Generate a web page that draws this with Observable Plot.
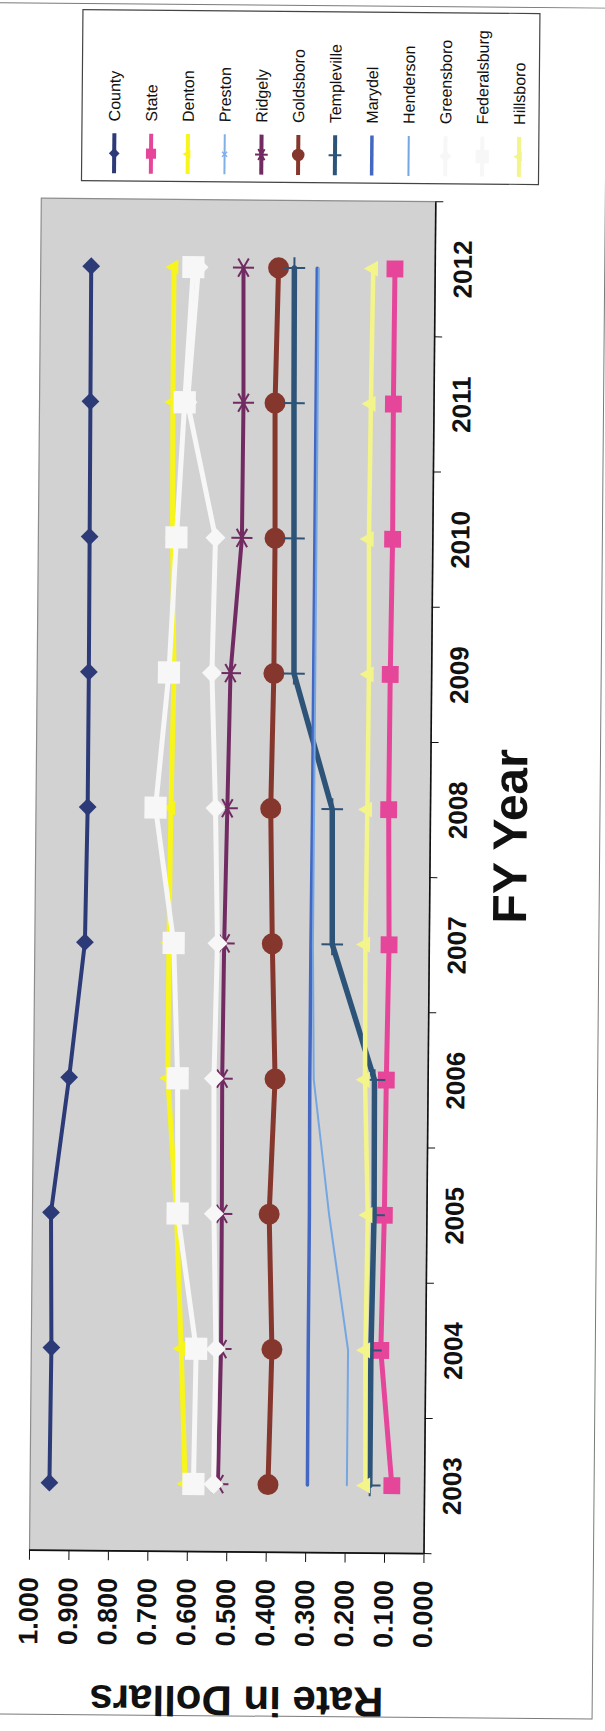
<!DOCTYPE html>
<html><head><meta charset="utf-8">
<script src="https://cdn.jsdelivr.net/npm/d3@7"></script>
<script src="https://cdn.jsdelivr.net/npm/@observablehq/plot@0.6"></script>
<style>
html,body{margin:0;padding:0;background:#fff;overflow:hidden;width:605px;height:1731px;}
#stage{position:absolute;left:-563px;top:563px;width:1731px;height:605px;transform-origin:865.5px 302.5px;transform:rotate(-89.5deg);font-family:"Liberation Sans",Arial,sans-serif;}
#border{position:absolute;left:14px;top:-10px;width:1712px;height:610px;border:1.5px solid #7a7a7a;box-sizing:border-box;}
#chart{position:absolute;left:0;top:0;}
#legend{position:absolute;left:1548px;top:75px;}
</style></head>
<body><div id="stage"><div id="border"></div><div id="chart"></div><div id="legend"></div></div>
<script>
// ---- data ----
const years = [2003, 2004, 2005, 2006, 2007, 2008, 2009, 2010, 2011, 2012];
const seriesNames = ["County","State","Denton","Preston","Ridgely","Goldsboro","Templeville","Marydel","Henderson","Greensboro","Federalsburg","Hillsboro"];
const county      = [0.951, 0.949, 0.953, 0.910, 0.873, 0.869, 0.869, 0.870, 0.871, 0.872];
const state       = [0.083, 0.114, 0.108, 0.106, 0.102, 0.106, 0.105, 0.102, 0.103, 0.102];
const denton      = [0.607, 0.620, 0.635, 0.660, 0.660, 0.658, 0.653, 0.660, 0.662, 0.662];
const preston     = [0.298, 0.298, 0.298, 0.300, 0.300, 0.299, 0.299, 0.299, 0.299, 0.299];
const ridgely     = [0.524, 0.519, 0.520, 0.522, 0.520, 0.515, 0.510, 0.484, 0.483, 0.486];
const goldsboro   = [0.397, 0.390, 0.400, 0.388, 0.398, 0.405, 0.400, 0.400, 0.403, 0.397];
const templeville = [0.139, 0.139, 0.134, 0.136, 0.246, 0.249, 0.349, 0.352, 0.355, 0.357];
const marydel     = [0.297, 0.298, 0.298, 0.300, 0.300, 0.299, 0.299, 0.299, 0.299, 0.299];
const henderson   = [0.197, 0.197, 0.248, 0.290, 0.295, 0.295, 0.295, 0.295, 0.295, 0.295];
const greensboro  = [0.535, 0.532, 0.540, 0.543, 0.537, 0.545, 0.557, 0.551, 0.625, 0.600];
const federalsburg= [0.586, 0.582, 0.632, 0.635, 0.648, 0.697, 0.666, 0.650, 0.632, 0.613];
const hillsboro   = [0.150, 0.153, 0.150, 0.160, 0.162, 0.160, 0.159, 0.162, 0.160, 0.157];
const seriesValues = [county, state, denton, preston, ridgely, goldsboro, templeville, marydel, henderson, greensboro, federalsburg, hillsboro];
const valueTicks = [0, 0.1, 0.2, 0.3, 0.4, 0.5, 0.6, 0.7, 0.8, 0.9, 1.0];
const xTitle = "FY Year";
const yTitle = "Rate in Dollars";

// ---- styles ----
const styles = {
  County:      {color:"#2c3a78", w:4,   symbol:"diamond2", r:8,   fill:"#2c3a78"},
  State:       {color:"#e6469a", w:5,   symbol:"square",   r:9.5, fill:"#e6469a"},
  Denton:      {color:"#f7f51c", w:5,   symbol:"triangle", r:5.5, fill:"#f7f51c"},
  Preston:     {color:"#7fb0e6", w:2,   symbol:"times",    r:4,   fill:"none", ms:"#7fb0e6", msw:1.5, hideMarks:true},
  Ridgely:     {color:"#722b62", w:4,   symbol:"asterisk", r:10,  fill:"none", ms:"#722b62", msw:2},
  Goldsboro:   {color:"#86372d", w:5,   symbol:"circle",   r:10.5,fill:"#86372d"},
  Templeville: {color:"#2d5478", w:5.5, symbol:"plus",     r:7,   fill:"none", ms:"#2d5478", msw:2},
  Marydel:     {color:"#4468c2", w:3.5, symbol:null},
  Henderson:   {color:"#74a6e2", w:2,   symbol:null},
  Greensboro:  {color:"#f7f7f7", w:5,   symbol:"diamond2", r:9,   fill:"#f7f7f7"},
  Federalsburg:{color:"#f7f7f7", w:5,   symbol:"square",   r:12.5,fill:"#f7f7f7"},
  Hillsboro:   {color:"#f3f48a", w:4.5, symbol:"triangle", r:6,   fill:"#f3f48a"}
};

const rows = seriesNames.flatMap((name, i) => years.map((year, j) => ({series: name, year, value: seriesValues[i][j]})));
const xMin = years[0] - 0.5, xMax = years[years.length - 1] + 0.5;
const boundaries = [...years.map(y => y - 0.5), xMax];

const marks = [Plot.frame({fill:"#d2d2d2", stroke:"#8c8c8c", strokeWidth:1.2})];
for (const name of seriesNames) {
  const s = styles[name];
  const d = rows.filter(r => r.series === name);
  marks.push(Plot.line(d, {x:"year", y:"value", stroke:s.color, strokeWidth:s.w, strokeLinejoin:"round"}));
  if (s.symbol && !s.hideMarks) marks.push(Plot.dot(d, {x:"year", y:"value", symbol:s.symbol, r:s.r, fill:s.fill, stroke:s.ms || "none", strokeWidth:s.msw || 0}));
}
marks.push(
  Plot.ruleY([0], {stroke:"#111", strokeWidth:1.6}),
  Plot.ruleX([xMin], {stroke:"#111", strokeWidth:1.6}),
  Plot.axisY(valueTicks, {tickFormat: d => d.toFixed(3), tickSize:9, tickPadding:18, fontSize:27, fontWeight:"bold", label:null}),
  Plot.axisX(years, {tickFormat: d => String(d), tickSize:0, tickPadding:18, fontSize:26, fontWeight:"bold", label:null}),
  Plot.axisX(boundaries, {tickFormat: () => "", tickSize:8, label:null}),
  Plot.text([xTitle], {text: d => d, frameAnchor:"bottom", textAnchor:"middle", lineAnchor:"middle", dx:42, dy:81, fontSize:48, fontWeight:"bold", fill:"#111"}),
  Plot.text([yTitle], {text: d => d, frameAnchor:"left", textAnchor:"middle", lineAnchor:"middle", rotate:-90, dx:-148, dy:11, fontSize:42, fontWeight:"bold", fill:"#111"})
);

const chart = Plot.plot({
  width:1731, height:605,
  marginLeft:178, marginRight:201, marginTop:35, marginBottom:175.5,
  x:{domain:[xMin, xMax]},
  y:{domain:[0, 1]},
  style:{fontFamily:"Liberation Sans, Arial, sans-serif", background:"transparent", color:"#111", overflow:"visible"},
  marks
});
document.getElementById("chart").appendChild(chart);

// ---- legend ----
const LW = 172, LH = 458;
const leg = d3.select("#legend").append("svg").attr("width", LW).attr("height", LH).style("overflow","visible");
leg.append("rect").attr("x",0.5).attr("y",0.5).attr("width",LW-1).attr("height",LH-1).attr("fill","#fff").attr("stroke","#444").attr("stroke-width",1.2);
const symMap = {diamond2:d3.symbolDiamond2, square:d3.symbolSquare, triangle:d3.symbolTriangle, times:d3.symbolTimes, asterisk:d3.symbolAsterisk, circle:d3.symbolCircle, plus:d3.symbolPlus};
seriesNames.forEach((name, i) => {
  const s = styles[name];
  const cy = 33 + 36.8 * i;
  const g = leg.append("g").attr("transform", `translate(0,${cy})`);
  g.append("line").attr("x1",8).attr("x2",48).attr("y1",0).attr("y2",0).attr("stroke",s.color).attr("stroke-width",Math.min(s.w,4));
  if (s.symbol) {
    const size = Math.PI * (s.r * 0.6) ** 2;
    g.append("path").attr("transform","translate(28,0)").attr("d", d3.symbol(symMap[s.symbol], size)())
      .attr("fill", s.fill).attr("stroke", s.ms || "none").attr("stroke-width", s.msw || 0);
  }
  g.append("text").attr("x",60).attr("y",0).attr("dy","0.35em").attr("font-size",16)
    .attr("font-family","Liberation Sans, Arial, sans-serif").attr("fill","#111").text(name);
});
</script>
</body></html>
